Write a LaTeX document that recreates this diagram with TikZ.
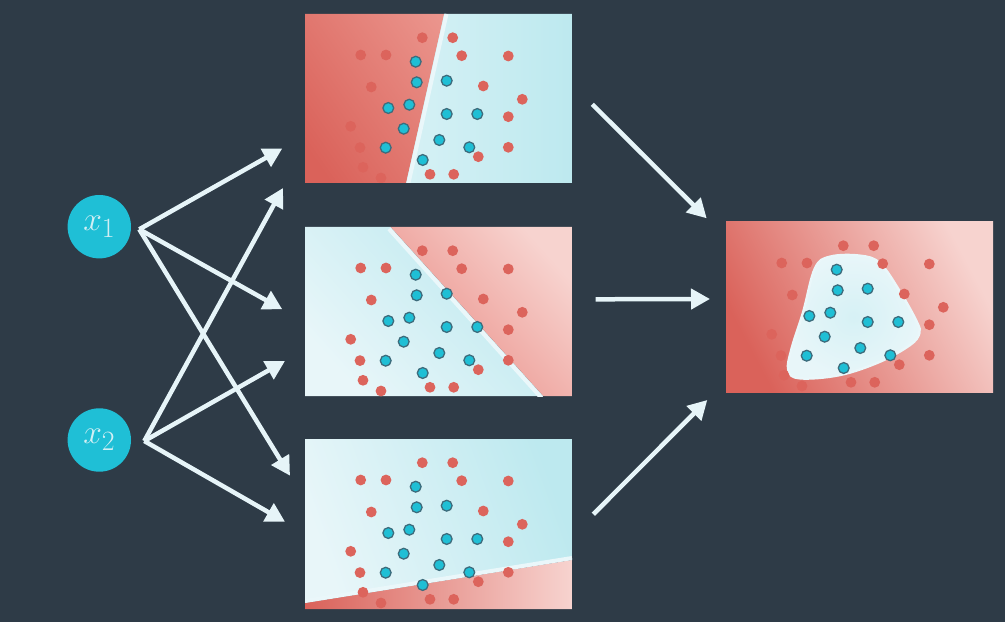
\documentclass[tikz,border=0pt]{standalone}
\usepackage{graphicx}
\usetikzlibrary{arrows.meta}
\definecolor{bg}{HTML}{2E3B47}
\definecolor{nodecyan}{HTML}{1FBFD6}
\definecolor{labelc}{HTML}{D2EFF4}
\definecolor{arrowc}{HTML}{E6F4F8}
\definecolor{reddeep}{HTML}{DA625A}
\definecolor{redpink}{HTML}{EE9F97}
\definecolor{redbound}{HTML}{EA8C85}
\definecolor{redlight}{HTML}{F7D3CF}
\definecolor{cyanbg}{HTML}{BDE9EF}
\definecolor{cyanlight}{HTML}{E8F6F9}
\definecolor{cyanmid}{HTML}{D6F1F5}
\definecolor{dotred}{HTML}{DC645C}
\definecolor{dotblue}{HTML}{1FBFD5}
\definecolor{dotring}{HTML}{3D6C7C}
\definecolor{band}{HTML}{EAF7FA}
\tikzset{
  inp/.style={circle, fill=nodecyan, minimum size=63.4bp, inner sep=0pt, text=labelc, font=\Huge},
  conn/.style={draw=arrowc, line width=4.5bp, -{Triangle[length=19bp,width=20bp]}},
  rdot/.style={fill=dotred},
  bdot/.style={fill=dotblue, draw=dotring, line width=1.3bp},
  bandline/.style={draw=band, line width=4bp},
}
\newcommand{\paneldots}{%
  \foreach \a/\b in {117.3/23.7,147.7/23.7,55.7/41,81/41,156.7/41.7,203.3/42,66.3/73,178.3/72,217.3/85.3,203.3/102.7,203.3/133.3,173.3/142.7,125/160.3,148.7/160.3,45.7/112.3,55/133.6,58/153.3,76/164}
    {\fill[rdot] (\a,\b) circle[radius=5.4];}
  \foreach \a/\b in {110.7/47.7,111.7/68.3,141.7/66.7,83.3/94,104.3/90.7,141.7/100,172.3/100,98.7/114.7,134.3/126,164.3/133.3,80.7/133.7,117.7/146}
    {\filldraw[bdot] (\a,\b) circle[radius=5.4];}
}
\begin{document}
\begin{tikzpicture}[x=1bp,y=-1bp]
\useasboundingbox (0,0) rectangle (1005,622);
\fill[bg] (0,0) rectangle (1005,622);

% ---------- panel 1 ----------
\begin{scope}
  \clip (305,14) rectangle (572,183);
  \fill[cyanbg] (305,14) rectangle (572,183);
  \shade[left color=cyanmid, right color=cyanbg] (444,14) -- (572,14) -- (572,183) -- (406,183) -- cycle;
  \begin{scope}
    \clip (305,14) -- (444,14) -- (406,183) -- (305,183) -- cycle;
    \shade[top color=reddeep, bottom color=redpink, shading angle=125] (290,-20) rectangle (510,200);
  \end{scope}
  \draw[bandline] (446.5,14) -- (408.5,183);
  \begin{scope}[shift={(305,14)}]\paneldots\end{scope}
\end{scope}

% ---------- panel 2 ----------
\begin{scope}
  \clip (305,227) rectangle (572,396);
  \shade[top color=cyanbg, bottom color=cyanlight, shading angle=-48] (305,227) -- (390.7,227) -- (543.3,396) -- (305,396) -- cycle;
  \shade[top color=redlight, bottom color=redbound, shading angle=-48] (390.7,227) -- (572,227) -- (572,396) -- (543.3,396) -- cycle;
  \draw[bandline] (389,229) -- (541.5,398);
  \begin{scope}[shift={(305,227)}]\paneldots\end{scope}
\end{scope}

% ---------- panel 3 ----------
\begin{scope}
  \clip (305,439) rectangle (572,609);
  \shade[left color=cyanlight, right color=cyanbg, shading angle=110] (305,439) -- (572,439) -- (572,560) -- (305,603) -- cycle;
  \shade[left color=reddeep, right color=redlight] (305,603) -- (572,560) -- (572,609) -- (305,609) -- cycle;
  \draw[bandline] (305,601) -- (572,558);
  \begin{scope}[shift={(305,439)}]\paneldots\end{scope}
\end{scope}

% ---------- final panel ----------
\begin{scope}
  \clip (726,222) rectangle (993,392);
  \shade[top color=redlight, bottom color=reddeep, shading angle=-62] (726,222) rectangle (993,392);
  \shade[inner color=cyanmid, outer color=cyanlight]
    plot[smooth cycle, tension=0.6] coordinates {(830,256.7) (860,255.7) (880,263.3) (900,291.7) (916.7,321.7) (919.3,333.3) (910,345) (880,361.7) (840,375) (800,378.3) (788.3,370) (791.7,348.3) (803.3,311.7) (815,268.3)};
  \draw[band, line width=2.5bp]
    plot[smooth cycle, tension=0.6] coordinates {(830,256.7) (860,255.7) (880,263.3) (900,291.7) (916.7,321.7) (919.3,333.3) (910,345) (880,361.7) (840,375) (800,378.3) (788.3,370) (791.7,348.3) (803.3,311.7) (815,268.3)};
  \begin{scope}[shift={(726,222)}]\paneldots\end{scope}
\end{scope}

% ---------- inputs ----------
\node[inp] (x1) at (99.3,226.7) {\scalebox{1.35}{$x_1$}};
\node[inp] (x2) at (99.3,440) {\scalebox{1.35}{$x_2$}};

\coordinate (s1) at (139.3,229.3);
\coordinate (s2) at (144.3,441);
\coordinate (t11) at (282.3,148.5);
\coordinate (t12) at (282.3,309.3);
\coordinate (t13) at (290,475.7);
\coordinate (t21) at (283,188);
\coordinate (t22) at (285,361);
\coordinate (t23) at (285,521.7);

\draw[conn] (s1) -- (t11);
\draw[conn] (s1) -- (t12);
\draw[conn] (s1) -- (t13);
\draw[conn] (s2) -- (t21);
\draw[conn] (s2) -- (t22);
\draw[conn] (s2) -- (t23);

\coordinate (o1) at (592.3,104.3);
\coordinate (o2) at (595.7,299.3);
\coordinate (o3) at (593.3,514.3);
\coordinate (f1) at (706.7,218.3);
\coordinate (f2) at (710,299);
\coordinate (f3) at (707.3,400);
\draw[conn] (o1) -- (f1);
\draw[conn] (o2) -- (f2);
\draw[conn] (o3) -- (f3);
\end{tikzpicture}
\end{document}
